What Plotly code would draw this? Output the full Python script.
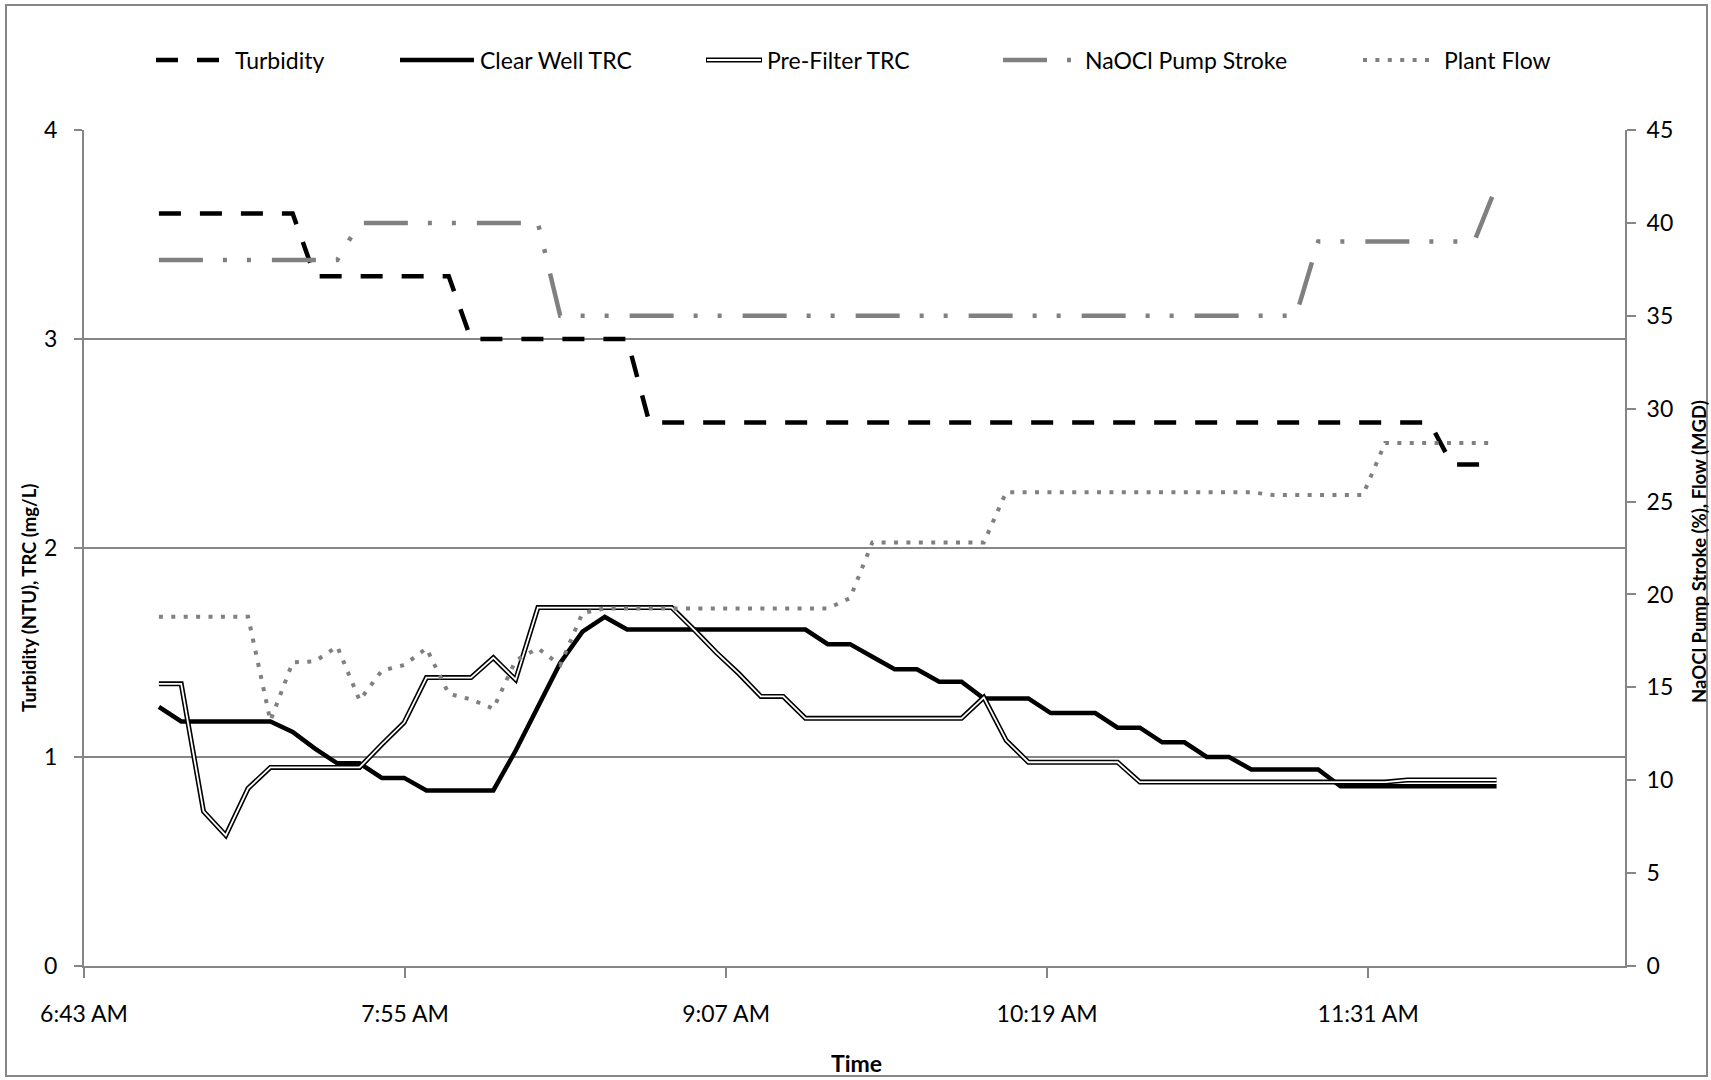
import plotly.graph_objects as go

# Readings every 5 minutes, 7:00 AM to 12:00 PM
times = [
    "07:00", "07:05", "07:10", "07:15", "07:20", "07:25", "07:30", "07:35", "07:40", "07:45", "07:50", "07:55",
    "08:00", "08:05", "08:10", "08:15", "08:20", "08:25", "08:30", "08:35", "08:40", "08:45", "08:50", "08:55",
    "09:00", "09:05", "09:10", "09:15", "09:20", "09:25", "09:30", "09:35", "09:40", "09:45", "09:50", "09:55",
    "10:00", "10:05", "10:10", "10:15", "10:20", "10:25", "10:30", "10:35", "10:40", "10:45", "10:50", "10:55",
    "11:00", "11:05", "11:10", "11:15", "11:20", "11:25", "11:30", "11:35", "11:40", "11:45", "11:50", "11:55",
    "12:00",
]

# Turbidity (NTU)
turbidity = [
    3.6, 3.6, 3.6, 3.6, 3.6, 3.6, 3.6, 3.3, 3.3, 3.3, 3.3, 3.3,
    3.3, 3.3, 3.0, 3.0, 3.0, 3.0, 3.0, 3.0, 3.0, 3.0, 2.6, 2.6,
    2.6, 2.6, 2.6, 2.6, 2.6, 2.6, 2.6, 2.6, 2.6, 2.6, 2.6, 2.6,
    2.6, 2.6, 2.6, 2.6, 2.6, 2.6, 2.6, 2.6, 2.6, 2.6, 2.6, 2.6,
    2.6, 2.6, 2.6, 2.6, 2.6, 2.6, 2.6, 2.6, 2.6, 2.6, 2.4, 2.4,
    2.4,
]

# Clear well total residual chlorine (mg/L)
clear_well_trc = [
    1.24, 1.17, 1.17, 1.17, 1.17, 1.17, 1.12, 1.04, 0.97, 0.97, 0.90, 0.90,
    0.84, 0.84, 0.84, 0.84, 1.03, 1.24, 1.45, 1.60, 1.67, 1.61, 1.61, 1.61,
    1.61, 1.61, 1.61, 1.61, 1.61, 1.61, 1.54, 1.54, 1.48, 1.42, 1.42, 1.36,
    1.36, 1.28, 1.28, 1.28, 1.21, 1.21, 1.21, 1.14, 1.14, 1.07, 1.07, 1.00,
    1.00, 0.94, 0.94, 0.94, 0.94, 0.86, 0.86, 0.86, 0.86, 0.86, 0.86, 0.86,
    0.86,
]

# Pre-filter total residual chlorine (mg/L)
pre_filter_trc = [
    1.35, 1.35, 0.74, 0.625, 0.85, 0.95, 0.95, 0.95, 0.95, 0.95, 1.06, 1.165,
    1.38, 1.38, 1.38, 1.475, 1.37, 1.715, 1.715, 1.715, 1.715, 1.715, 1.715, 1.715,
    1.61, 1.50, 1.40, 1.29, 1.29, 1.185, 1.185, 1.185, 1.185, 1.185, 1.185, 1.185,
    1.185, 1.285, 1.08, 0.975, 0.975, 0.975, 0.975, 0.975, 0.88, 0.88, 0.88, 0.88,
    0.88, 0.88, 0.88, 0.88, 0.88, 0.88, 0.88, 0.88, 0.89, 0.89, 0.89, 0.89,
    0.89,
]

# NaOCl pump stroke (%)
naocl_stroke = [
    38, 38, 38, 38, 38, 38, 38, 38, 38, 40, 40, 40,
    40, 40, 40, 40, 40, 40, 35, 35, 35, 35, 35, 35,
    35, 35, 35, 35, 35, 35, 35, 35, 35, 35, 35, 35,
    35, 35, 35, 35, 35, 35, 35, 35, 35, 35, 35, 35,
    35, 35, 35, 35, 39, 39, 39, 39, 39, 39, 39, 39,
    42,
]

# Plant flow (MGD)
plant_flow = [
    18.8, 18.8, 18.8, 18.8, 18.8, 13.2, 16.35, 16.4, 17.2, 14.3, 15.9, 16.2,
    17.1, 14.65, 14.35, 13.85, 16.45, 17.1, 16.2, 19.0, 19.25, 19.25, 19.25, 19.25,
    19.25, 19.25, 19.25, 19.25, 19.25, 19.25, 19.25, 19.8, 22.8, 22.8, 22.8, 22.8,
    22.8, 22.8, 25.5, 25.5, 25.5, 25.5, 25.5, 25.5, 25.5, 25.5, 25.5, 25.5,
    25.5, 25.5, 25.35, 25.35, 25.35, 25.35, 25.35, 28.15, 28.15, 28.15, 28.15, 28.15,
    28.15,
]

series_names = ["Turbidity", "Clear Well TRC", "Pre-Filter TRC", "NaOCl Pump Stroke", "Plant Flow"]

DAY = "2000-01-01"
x = [f"{DAY} {t}" for t in times]

W, H = 1711, 1080
L, R, T, B = 84, 1625, 130, 966  # plot area edges in pixels

GRAY = "#808080"
AXIS_GRAY = "#868686"
FONT = "Lato, 'Open Sans', Arial, sans-serif"
FS = 23
TITLE_FS = 18.5

LINE_STYLES = [
    dict(color="black", width=4.5, dash="22px,19px"),
    dict(color="black", width=4.5),
    dict(color="black", width=5),
    dict(color=GRAY, width=4.5, dash="44px,20px,4px,20px,4px,21px"),
    dict(color=GRAY, width=4, dash="4px,8.4px"),
]
DOUBLE_INNER = dict(color="white", width=1.8)


def fx(px):
    return (px - L) / (R - L)


def fy(py):
    return (B - py) / (B - T)


fig = go.Figure()
fig.add_trace(go.Scatter(x=x, y=turbidity, name=series_names[0], mode="lines", line=LINE_STYLES[0]))
fig.add_trace(go.Scatter(x=x, y=clear_well_trc, name=series_names[1], mode="lines", line=LINE_STYLES[1]))
fig.add_trace(go.Scatter(x=x, y=pre_filter_trc, name=series_names[2], mode="lines", line=LINE_STYLES[2]))
# white core gives the pre-filter series its double-line look
fig.add_trace(go.Scatter(x=x, y=pre_filter_trc, name=series_names[2], mode="lines",
                         line=DOUBLE_INNER, hoverinfo="skip"))
fig.add_trace(go.Scatter(x=x, y=naocl_stroke, name=series_names[3], yaxis="y2", mode="lines",
                         line=LINE_STYLES[3]))
fig.add_trace(go.Scatter(x=x, y=plant_flow, name=series_names[4], yaxis="y2", mode="lines",
                         line=LINE_STYLES[4]))
fig.update_traces(showlegend=False)

# Legend row across the top: sample line + label for each series
legend_y = 60
legend_samples = [(156, 221), (400, 474), (706, 762), (1003, 1071), (1363, 1430)]
legend_text_x = [233, 478, 765, 1083, 1442]
shapes = []
annotations = []
for name, (x0, x1), tx, style in zip(series_names, legend_samples, legend_text_x, LINE_STYLES):
    shapes.append(dict(type="line", xref="paper", yref="paper", x0=fx(x0), x1=fx(x1),
                       y0=fy(legend_y), y1=fy(legend_y), line=style, layer="above"))
    if name == "Pre-Filter TRC":
        shapes.append(dict(type="line", xref="paper", yref="paper", x0=fx(x0 + 1), x1=fx(x1 - 1),
                           y0=fy(legend_y), y1=fy(legend_y), line=DOUBLE_INNER, layer="above"))
    annotations.append(dict(text=name, xref="paper", yref="paper", x=fx(tx), y=fy(legend_y),
                            xanchor="left", yanchor="middle", showarrow=False,
                            font=dict(family=FONT, size=FS, color="black")))

# Chart frame
shapes.append(dict(type="rect", xref="paper", yref="paper", x0=fx(6), x1=fx(1707), y0=fy(5), y1=fy(1076),
                   line=dict(color=AXIS_GRAY, width=2), layer="below"))

annotations.append(dict(text="Time", xref="paper", yref="paper", x=fx(856), y=fy(1063),
                        xanchor="center", yanchor="middle", showarrow=False,
                        font=dict(family=FONT, size=FS, color="black", weight="bold")))
side_title_font = dict(family=FONT, size=TITLE_FS, color="black", weight="bold")
annotations.append(dict(text="Turbidity (NTU), TRC (mg/L)", xref="paper", yref="paper", x=fx(29), y=fy(598),
                        xanchor="center", yanchor="middle", showarrow=False, textangle=-90,
                        font=side_title_font))
annotations.append(dict(text="NaOCl Pump Stroke (%), Flow (MGD)", xref="paper", yref="paper", x=fx(1699),
                        y=fy(552), xanchor="center", yanchor="middle", showarrow=False, textangle=-90,
                        font=side_title_font))

tick_font = dict(family=FONT, size=FS, color="black")
fig.update_layout(
    width=W, height=H,
    margin=dict(l=L, r=W - R, t=T, b=H - B, pad=0),
    paper_bgcolor="white", plot_bgcolor="white",
    showlegend=False,
    shapes=shapes, annotations=annotations,
    xaxis=dict(
        type="date",
        range=[f"{DAY} 06:43:12", f"{DAY} 12:28:48"],
        tick0=f"{DAY} 06:43:12", dtick=72 * 60 * 1000,
        tickformat="%-I:%M %p",
        ticks="outside", ticklen=10, tickwidth=1.5, tickcolor=AXIS_GRAY,
        showline=True, linecolor=AXIS_GRAY, linewidth=2,
        showgrid=False, zeroline=False,
        tickfont=tick_font, ticklabelstandoff=16,
    ),
    yaxis=dict(
        range=[0, 4], tick0=0, dtick=1,
        showgrid=True, gridcolor=AXIS_GRAY, gridwidth=1.5,
        showline=True, linecolor=AXIS_GRAY, linewidth=2,
        ticks="outside", ticklen=8, tickwidth=1.5, tickcolor=AXIS_GRAY,
        zeroline=False, tickfont=tick_font, ticklabelstandoff=12,
    ),
    yaxis2=dict(
        range=[0, 45], tick0=0, dtick=5,
        overlaying="y", side="right",
        showgrid=False, zeroline=False,
        showline=True, linecolor=AXIS_GRAY, linewidth=2,
        ticks="outside", ticklen=9, tickwidth=1.5, tickcolor=AXIS_GRAY,
        tickfont=tick_font, ticklabelstandoff=6,
    ),
)

fig.write_html("out.html")
